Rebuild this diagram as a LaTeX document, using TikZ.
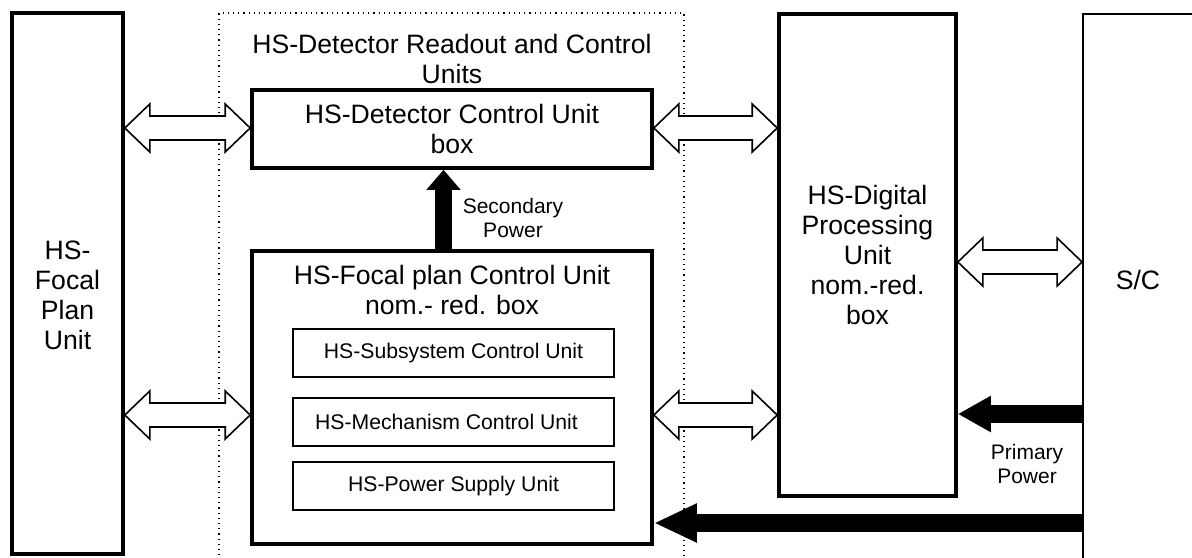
\documentclass[tikz,border=0pt]{standalone}
\usepackage{fontspec}
\setmainfont{Liberation Sans}
\usetikzlibrary{calc,arrows.meta}

% open two-headed arrow between two points on one row
\newcommand{\twoway}[2]{%
  \draw[hollow] (#1) -- ++(25,-24) -- ++(0,12) -- ($(#2)+(-25,-12)$) -- ++(0,-12)
    -- (#2) -- ++(-25,24) -- ++(0,-12) -- ($(#1)+(25,12)$) -- ++(0,12) -- cycle;}

\begin{document}
\begin{tikzpicture}[x=0.5pt,y=-0.5pt,
    unit/.style={draw,line width=1.8pt,inner sep=0pt,align=center,font=\fontsize{13.3}{15}\selectfont},
    subunit/.style={draw,line width=1pt,minimum width=160.5pt,minimum height=24pt,inner sep=0pt,font=\fontsize{10.6}{12}\selectfont},
    hollow/.style={draw,fill=white,line width=0.8pt,line join=miter},
    power/.style={line width=9pt},
    note/.style={align=center,font=\fontsize{10.5}{12}\selectfont},
    big/.style={align=center,font=\fontsize{13.3}{15}\selectfont}]
        \useasboundingbox (0,0) rectangle (1192,557);
        % readout and control group
        \node[draw,dotted,line width=0.6pt,minimum width=232.5pt,minimum height=281pt] (group) at (451.5,294) {};
        \node[big] (grouptitle) at (452,58.5) {HS-Detector Readout and Control\\Units};
        % boxes
        \node[unit,minimum width=55.5pt,minimum height=270.5pt] (fpu) at (67.5,283.5) {};
        \node[big] (fputext) at (67.5,295) {HS-\\Focal\\Plan\\Unit};
        \node[unit,minimum width=200pt,minimum height=39pt] (dcu) at (452,129) {HS-Detector Control Unit\\box};
        \node[unit,minimum width=200pt,minimum height=146.5pt] (fcu) at (452,397.5) {};
        \node[big] (fcutext) at (452,290) {HS-Focal plan Control Unit\\nom.- red. box};
        \node[subunit] (scu) at (453.5,353) {HS-Subsystem Control Unit};
        \node[subunit] (mcu) at (453.5,422) {HS-Mechanism Control Unit\hspace*{7pt}};
        \node[subunit] (psu) at (453.5,486) {HS-Power Supply Unit};
        \node[unit,minimum width=88.5pt,minimum height=241pt] (dpu) at (867.5,255) {HS-Digital\\Processing\\Unit\\nom.-red.\\box};
        \node[draw,line width=0.9pt,minimum width=56pt,minimum height=278pt] (sc) at (1139,292) {};
        \node[big] (sctext) at (1138,280) {S/C};
        % rows of the links
        \coordinate (toprow) at (0,128);
        \coordinate (lowrow) at (0,415);
        \coordinate (scrow) at (0,262);
        \coordinate (secx) at (443.5,0);
        \coordinate (prima) at (0,414);
        \coordinate (primb) at (0,523);
        % data links
        \twoway{fpu.east |- toprow}{dcu.west |- toprow}
        \twoway{fpu.east |- lowrow}{fcu.west |- lowrow}
        \twoway{dcu.east |- toprow}{dpu.west |- toprow}
        \twoway{fcu.east |- lowrow}{dpu.west |- lowrow}
        \twoway{dpu.east |- scrow}{sc.west |- scrow}
        % power
        \draw[power,line width=8.5pt,-{Triangle[length=10pt,width=16.5pt]}] (fcu.north -| secx) -- (dcu.south -| secx);
        \node[note] (seclabel) at (513,218) {Secondary\\Power};
        \draw[power,-{Triangle[length=16.5pt,width=17pt]}] (sc.west |- prima) -- (dpu.east |- prima);
        \draw[power,-{Triangle[length=21.5pt,width=18pt]}] (sc.west |- primb) -- (fcu.east |- primb);
        \node[note] (primlabel) at (1027,464) {Primary\\Power};
    \end{tikzpicture}
\end{document}
